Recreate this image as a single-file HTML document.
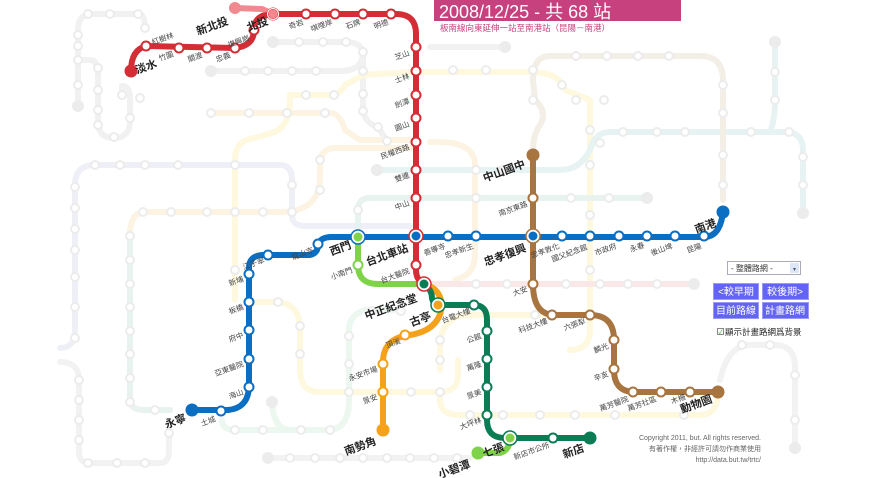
<!DOCTYPE html>
<html><head><meta charset="utf-8"><style>
html,body{margin:0;padding:0;background:#fff;}
svg{display:block;font-family:"Liberation Sans","Noto Sans CJK TC",sans-serif;}
.s{font-size:7.5px;fill:#444;text-anchor:end;}
.b{font-size:11px;font-weight:bold;fill:#222;text-anchor:end;}
.bg{fill:none;stroke-width:6;stroke-linecap:round;stroke-linejoin:round;}
.bc circle{fill:#fff;stroke:#ececec;stroke-width:2;}
.ln{fill:none;stroke-width:6;stroke-linecap:round;stroke-linejoin:round;}
</style></head><body>
<svg width="878" height="478" viewBox="0 0 878 478" xmlns="http://www.w3.org/2000/svg">
<g class="bg">
<path stroke="#f1f1f1" d="M78,106 L78,30 Q78,14 92,14 L138,14 Q145,14 145,28"/>
<path stroke="#f1f1f1" d="M78,60 L90,60 Q98,60 98,75 L98,125 Q100,138 114,138 Q130,138 130,120 L130,98 Q130,86 122,86 L122,95"/>
<path stroke="#f1f1f1" d="M273,42 L346,42 Q360,42 363,52"/>
<path stroke="#f1f1f1" d="M211,71 L340,71 Q363,71 363,52 L363,111 Q366,124 378,127 L387,141"/>
<path stroke="#f1f1f1" d="M430,47 L505,47"/>
<path stroke="#f2f2f2" d="M268,458 L470,458"/>
<path stroke="#f2f2f2" d="M60,362 Q79,362 79,380 L79,452 Q79,463 90,463 L160,463 Q169,463 169,450 L169,433"/>
<path stroke="#f2f2f2" d="M720,380 Q728,345 750,345 L775,345 Q795,345 795,368 L795,448"/>
<path stroke="#efeff7" d="M60,348 Q75,348 75,330 L75,185 Q75,165 95,165 L280,165 Q292,165 292,180 L292,215 Q292,226 305,226 L410,226"/>
<path stroke="#fdf3e3" d="M130,236 Q130,212 145,212 L280,212 Q318,212 320,180 L320,160 Q322,150 333,148 L410,148"/>
<path stroke="#fdf3e3" d="M211,113 L330,113 Q340,113 345,130 L360,140 L410,140"/>
<path stroke="#fdf3e3" d="M430,142 Q475,140 475,165 L475,255 Q475,275 455,280"/>
<path stroke="#fdf8de" d="M235,300 L235,160 Q235,140 255,138 L275,132 Q290,125 290,100 L290,95 L330,95 Q340,95 345,85 L363,75 L410,72 L530,72 Q560,72 565,90 L590,100 L590,330 Q590,350 570,350"/>
<path stroke="#fdf8de" d="M249,302 L275,302 Q300,302 300,330 L300,370 Q300,392 320,392 L440,392 Q458,392 458,375 L458,360"/>
<path stroke="#fdf8de" d="M440,392 L440,400 Q440,415 460,415 L700,415 Q718,415 718,392"/>
<path stroke="#fdf8de" d="M440,370 L440,340 Q445,315 470,315 L560,315"/>
<path stroke="#e7f3f3" d="M377,170 L560,170 Q580,170 590,150 Q595,132 610,132 L785,132 Q803,132 803,150 L803,213"/>
<path stroke="#e7f3f3" d="M770,132 Q775,120 775,100 L775,42"/>
<path stroke="#e8f2ef" d="M358,236 L358,210 Q358,198 370,198 L647,198"/>
<path stroke="#e8f2ef" d="M130,236 L130,400 Q130,410 145,410 L170,410"/>
<path stroke="#fae8e8" d="M430,284 L694,284"/>
<path stroke="#f3eee6" d="M533,150 Q533,135 540,125 Q548,112 535,100 L533,80 Q533,56 550,56 L700,56 Q723,56 723,80 L723,200"/>
<path stroke="#ecf7f0" d="M400,310 L365,310 Q349,315 349,330 L349,400 Q349,428 330,430 L235,430 Q222,430 222,420"/>
<path stroke="#ecf7f0" d="M272,405 Q275,430 290,430"/>
</g>
<g class="bc">
<circle cx="88" cy="14" r="4"/><circle cx="110" cy="14" r="4"/><circle cx="138" cy="14" r="4"/><circle cx="145" cy="28" r="4"/>
<circle cx="78" cy="35" r="4"/><circle cx="78" cy="46" r="4"/><circle cx="78" cy="60" r="4"/><circle cx="78" cy="85" r="4"/>
<circle cx="98" cy="68" r="4"/><circle cx="98" cy="90" r="4"/><circle cx="98" cy="110" r="4"/><circle cx="98" cy="125" r="4"/><circle cx="114" cy="137" r="4"/><circle cx="130" cy="118" r="4"/><circle cx="122" cy="95" r="4"/><circle cx="140" cy="98" r="4"/>
<circle cx="299" cy="42" r="4"/><circle cx="323" cy="42" r="4"/><circle cx="346" cy="42" r="4"/><circle cx="363" cy="52" r="4"/>
<circle cx="245" cy="71" r="4"/><circle cx="268" cy="71" r="4"/><circle cx="292" cy="71" r="4"/><circle cx="316" cy="71" r="4"/><circle cx="363" cy="71" r="4"/><circle cx="363" cy="94" r="4"/><circle cx="363" cy="111" r="4"/><circle cx="378" cy="127" r="4"/><circle cx="387" cy="141" r="4"/>
<circle cx="306" cy="95" r="4"/><circle cx="334" cy="95" r="4"/><circle cx="453" cy="70" r="4"/><circle cx="486" cy="70" r="4"/><circle cx="533" cy="70" r="4"/><circle cx="562" cy="85" r="4"/><circle cx="576" cy="100" r="4"/><circle cx="604" cy="100" r="4"/><circle cx="590" cy="130" r="4"/><circle cx="590" cy="165" r="4"/><circle cx="590" cy="215" r="4"/><circle cx="590" cy="270" r="4"/>
<circle cx="211" cy="113" r="4"/><circle cx="249" cy="113" r="4"/><circle cx="287" cy="113" r="4"/><circle cx="325" cy="113" r="4"/>
<circle cx="95" cy="165" r="4"/><circle cx="120" cy="165" r="4"/><circle cx="145" cy="165" r="4"/><circle cx="178" cy="165" r="4"/><circle cx="235" cy="165" r="4"/><circle cx="292" cy="185" r="4"/>
<circle cx="75" cy="187" r="4"/><circle cx="75" cy="208" r="4"/><circle cx="75" cy="229" r="4"/><circle cx="75" cy="250" r="4"/><circle cx="75" cy="277" r="4"/><circle cx="75" cy="307" r="4"/><circle cx="75" cy="338" r="4"/>
<circle cx="143" cy="212" r="4"/><circle cx="171" cy="212" r="4"/><circle cx="207" cy="212" r="4"/><circle cx="235" cy="212" r="4"/><circle cx="263" cy="212" r="4"/><circle cx="292" cy="212" r="4"/><circle cx="320" cy="190" r="4"/><circle cx="320" cy="160" r="4"/>
<circle cx="130" cy="236" r="4"/><circle cx="130" cy="260" r="4"/><circle cx="130" cy="284" r="4"/><circle cx="130" cy="307" r="4"/><circle cx="130" cy="331" r="4"/><circle cx="130" cy="354" r="4"/><circle cx="130" cy="378" r="4"/><circle cx="130" cy="402" r="4"/><circle cx="155" cy="410" r="4"/>
<circle cx="235" cy="270" r="4"/><circle cx="278" cy="302" r="4"/><circle cx="300" cy="326" r="4"/><circle cx="300" cy="354" r="4"/><circle cx="349" cy="392" r="4"/><circle cx="411" cy="392" r="4"/><circle cx="440" cy="392" r="4"/>
<circle cx="349" cy="336" r="4"/><circle cx="349" cy="364" r="4"/><circle cx="372" cy="311" r="4"/><circle cx="401" cy="311" r="4"/>
<circle cx="235" cy="430" r="4"/><circle cx="263" cy="430" r="4"/><circle cx="301" cy="430" r="4"/><circle cx="330" cy="430" r="4"/>
<circle cx="290" cy="458" r="4"/><circle cx="315" cy="458" r="4"/><circle cx="340" cy="458" r="4"/><circle cx="363" cy="458" r="4"/><circle cx="387" cy="458" r="4"/><circle cx="410" cy="458" r="4"/><circle cx="434" cy="458" r="4"/><circle cx="457" cy="458" r="4"/>
<circle cx="79" cy="380" r="4"/><circle cx="79" cy="400" r="4"/><circle cx="79" cy="420" r="4"/><circle cx="79" cy="440" r="4"/><circle cx="88" cy="463" r="4"/><circle cx="117" cy="463" r="4"/><circle cx="145" cy="463" r="4"/><circle cx="169" cy="433" r="4"/>
<circle cx="440" cy="340" r="4"/><circle cx="440" cy="360" r="4"/><circle cx="535" cy="315" r="4"/><circle cx="470" cy="415" r="4"/><circle cx="503" cy="415" r="4"/><circle cx="540" cy="415" r="4"/><circle cx="575" cy="415" r="4"/><circle cx="615" cy="415" r="4"/><circle cx="684" cy="415" r="4"/>
<circle cx="742" cy="345" r="4"/><circle cx="770" cy="345" r="4"/><circle cx="795" cy="375" r="4"/><circle cx="795" cy="420" r="4"/>
<circle cx="476" cy="170" r="4"/><circle cx="503" cy="170" r="4"/><circle cx="600" cy="143" r="4"/><circle cx="623" cy="132" r="4"/><circle cx="657" cy="132" r="4"/><circle cx="685" cy="132" r="4"/><circle cx="751" cy="132" r="4"/><circle cx="789" cy="132" r="4"/><circle cx="803" cy="157" r="4"/><circle cx="803" cy="185" r="4"/><circle cx="775" cy="72" r="4"/><circle cx="775" cy="100" r="4"/>
<circle cx="476" cy="198" r="4"/><circle cx="571" cy="198" r="4"/><circle cx="609" cy="198" r="4"/><circle cx="358" cy="210" r="4"/>
<circle cx="476" cy="284" r="4"/><circle cx="507" cy="284" r="4"/><circle cx="566" cy="284" r="4"/><circle cx="600" cy="284" r="4"/><circle cx="628" cy="284" r="4"/><circle cx="657" cy="284" r="4"/>
<circle cx="533" cy="100" r="4"/><circle cx="576" cy="56" r="4"/><circle cx="607" cy="56" r="4"/><circle cx="638" cy="56" r="4"/><circle cx="669" cy="56" r="4"/><circle cx="723" cy="85" r="4"/><circle cx="723" cy="113" r="4"/><circle cx="723" cy="155" r="4"/><circle cx="723" cy="185" r="4"/>
</g>
<g fill="#ececec"><circle cx="78" cy="106" r="6"/><circle cx="273" cy="42" r="6"/><circle cx="211" cy="71" r="6"/><circle cx="505" cy="47" r="6"/><circle cx="268" cy="458" r="6"/><circle cx="795" cy="448" r="6"/><circle cx="647" cy="198" r="6"/><circle cx="694" cy="284" r="6"/><circle cx="377" cy="170" r="6"/><circle cx="272" cy="402" r="6"/><circle cx="803" cy="213" r="6"/><circle cx="775" cy="42" r="6"/></g>

<path class="ln" stroke="#f08a90" stroke-width="5" d="M235,8 L262,9 L273,14"/>
<circle cx="235" cy="8" r="6" fill="#f08a90"/>
<path class="ln" stroke="#7ed348" d="M358,237 L358,265 Q358,284 378,284 L424,284"/>
<path class="ln" stroke="#7ed348" d="M478,453 L500,453 Q510,450 510,438"/>
<path class="ln" stroke="#f5a21a" d="M424,284 Q440,288 442,305 Q440,330 410,335 Q383,338 383,362 L383,430"/>
<path class="ln" stroke="#0a7d55" d="M424,284 Q432,290 432,298 Q433,305 440,305 L474,305 Q487,305 487,320 L487,420 Q487,438 505,438 L590,438"/>
<path class="ln" stroke="#a8743f" d="M533,155 L533,284 Q533,315 555,315 L590,315 Q614,315 614,340 L614,370 Q614,392 635,392 L718,392"/>
<path class="ln" stroke="#0a6fc2" d="M192,410 L228,410 Q249,408 249,385 L249,268 Q249,256 262,255 L310,255 Q318,253 318,245 Q320,237 332,237 L704,237 Q720,237 723,212"/>
<path class="ln" stroke="#d42d35" d="M131,71 Q131,50 146,46 L235,48 Q254,46 254,30 Q254,20 262,16 L273,14 L396,14 Q416,14 416,34 L416,270 Q416,280 424,284"/>
<circle cx="131" cy="71" r="6.5" fill="#d42d35"/>
<circle cx="192" cy="410" r="6.5" fill="#0a6fc2"/><circle cx="723" cy="212" r="6.5" fill="#0a6fc2"/>
<circle cx="478" cy="453" r="6.5" fill="#7ed348"/>
<circle cx="383" cy="430" r="6.5" fill="#f5a21a"/>
<circle cx="590" cy="438" r="6.5" fill="#0a7d55"/>
<circle cx="533" cy="155" r="6.5" fill="#a8743f"/><circle cx="718" cy="392" r="6.5" fill="#a8743f"/>
<g fill="#fff" stroke-width="2">
<g stroke="#d42d35"><circle cx="146" cy="46" r="4.5"/><circle cx="179" cy="48" r="4.5"/><circle cx="207" cy="48" r="4.5"/><circle cx="235" cy="48" r="4.5"/><circle cx="254" cy="30" r="4.5"/><circle cx="306" cy="14" r="4.5"/><circle cx="335" cy="14" r="4.5"/><circle cx="363" cy="14" r="4.5"/><circle cx="391" cy="14" r="4.5"/><circle cx="416" cy="47" r="4.5"/><circle cx="416" cy="71" r="4.5"/><circle cx="416" cy="95" r="4.5"/><circle cx="416" cy="118" r="4.5"/><circle cx="416" cy="142" r="4.5"/><circle cx="416" cy="170" r="4.5"/><circle cx="416" cy="198" r="4.5"/><circle cx="416" cy="265" r="4.5"/></g>
<g stroke="#0a6fc2"><circle cx="221" cy="411" r="4.5"/><circle cx="249" cy="387" r="4.5"/><circle cx="249" cy="359" r="4.5"/><circle cx="249" cy="330" r="4.5"/><circle cx="249" cy="302" r="4.5"/><circle cx="249" cy="274" r="4.5"/><circle cx="268" cy="255" r="4.5"/><circle cx="318" cy="244" r="4.5"/><circle cx="448" cy="236" r="4.5"/><circle cx="476" cy="236" r="4.5"/><circle cx="562" cy="236" r="4.5"/><circle cx="590" cy="236" r="4.5"/><circle cx="619" cy="236" r="4.5"/><circle cx="647" cy="236" r="4.5"/><circle cx="675" cy="236" r="4.5"/><circle cx="704" cy="236" r="4.5"/></g>
<g stroke="#7ed348"><circle cx="358" cy="265" r="4.5"/></g>
<g stroke="#0a7d55"><circle cx="474" cy="305" r="4.5"/><circle cx="487" cy="331" r="4.5"/><circle cx="487" cy="359" r="4.5"/><circle cx="487" cy="387" r="4.5"/><circle cx="487" cy="415" r="4.5"/><circle cx="553" cy="438" r="4.5"/></g>
<g stroke="#f5a21a"><circle cx="405" cy="335" r="4.5"/><circle cx="383" cy="364" r="4.5"/><circle cx="383" cy="392" r="4.5"/></g>
<g stroke="#a8743f"><circle cx="533" cy="198" r="4.5"/><circle cx="533" cy="284" r="4.5"/><circle cx="552" cy="315" r="4.5"/><circle cx="590" cy="315" r="4.5"/><circle cx="614" cy="340" r="4.5"/><circle cx="614" cy="369" r="4.5"/><circle cx="633" cy="392" r="4.5"/><circle cx="661" cy="392" r="4.5"/><circle cx="690" cy="392" r="4.5"/></g>
</g>
<circle cx="273" cy="14" r="5.5" fill="#f08a90" stroke="#d42d35" stroke-width="2"/>
<circle cx="273" cy="14" r="5.5" fill="none" stroke="#fff" stroke-width="1"/>
<circle cx="416" cy="236" r="5.5" fill="#0a6fc2" stroke="#fff" stroke-width="2"/><circle cx="416" cy="236" r="7" fill="none" stroke="#d42d35" stroke-width="1.5"/>
<circle cx="358" cy="237" r="5.5" fill="#7ed348" stroke="#fff" stroke-width="2"/><circle cx="358" cy="237" r="7" fill="none" stroke="#0a6fc2" stroke-width="1.5"/>
<circle cx="533" cy="236" r="5.5" fill="#0a6fc2" stroke="#fff" stroke-width="2"/><circle cx="533" cy="236" r="7" fill="none" stroke="#a8743f" stroke-width="1.5"/>
<circle cx="424" cy="284" r="5.5" fill="#0a7d55" stroke="#fff" stroke-width="2"/><circle cx="424" cy="284" r="7" fill="none" stroke="#d42d35" stroke-width="1.5"/>
<circle cx="438" cy="305" r="5.5" fill="#f5a21a" stroke="#fff" stroke-width="2"/><circle cx="438" cy="305" r="7" fill="none" stroke="#0a7d55" stroke-width="1.5"/>
<circle cx="510" cy="438" r="5.5" fill="#7ed348" stroke="#fff" stroke-width="2"/><circle cx="510" cy="438" r="7" fill="none" stroke="#0a7d55" stroke-width="1.5"/>

<g class="s">
<text x="153" y="45" text-anchor="start" transform="rotate(-20 153 45)">紅樹林</text>
<text x="174" y="56" transform="rotate(-20 174 56)">竹圍</text>
<text x="203" y="57" transform="rotate(-20 203 57)">關渡</text>
<text x="231" y="57" transform="rotate(-20 231 57)">忠義</text>
<text x="250" y="40" transform="rotate(-20 250 40)">復興崗</text>
<text x="304" y="24" transform="rotate(-20 304 24)">奇岩</text>
<text x="333" y="24" transform="rotate(-20 333 24)">唭哩岸</text>
<text x="361" y="24" transform="rotate(-20 361 24)">石牌</text>
<text x="389" y="24" transform="rotate(-20 389 24)">明德</text>
<text x="410" y="55" transform="rotate(-20 410 55)">芝山</text>
<text x="410" y="78" transform="rotate(-20 410 78)">士林</text>
<text x="410" y="103" transform="rotate(-20 410 103)">劍潭</text>
<text x="410" y="126" transform="rotate(-20 410 126)">圓山</text>
<text x="410" y="149" transform="rotate(-20 410 149)">民權西路</text>
<text x="410" y="177" transform="rotate(-20 410 177)">雙連</text>
<text x="410" y="205" transform="rotate(-20 410 205)">中山</text>
<text x="410" y="273" transform="rotate(-20 410 273)">台大醫院</text>
<text x="353" y="272" transform="rotate(-20 353 272)">小南門</text>
<text x="216" y="421" transform="rotate(-20 216 421)">土城</text>
<text x="244" y="394" transform="rotate(-20 244 394)">海山</text>
<text x="244" y="366" transform="rotate(-20 244 366)">亞東醫院</text>
<text x="244" y="337" transform="rotate(-20 244 337)">府中</text>
<text x="244" y="309" transform="rotate(-20 244 309)">板橋</text>
<text x="244" y="281" transform="rotate(-20 244 281)">新埔</text>
<text x="265" y="262" transform="rotate(-20 265 262)">江子翠</text>
<text x="314" y="252" transform="rotate(-20 314 252)">龍山寺</text>
<text x="446" y="248" transform="rotate(-20 446 248)">善導寺</text>
<text x="474" y="248" transform="rotate(-20 474 248)">忠孝新生</text>
<text x="560" y="248" transform="rotate(-20 560 248)">忠孝敦化</text>
<text x="588" y="249" transform="rotate(-20 588 249)">國父紀念館</text>
<text x="617" y="248" transform="rotate(-20 617 248)">市政府</text>
<text x="645" y="247" transform="rotate(-20 645 247)">永春</text>
<text x="673" y="248" transform="rotate(-20 673 248)">後山埤</text>
<text x="702" y="248" transform="rotate(-20 702 248)">昆陽</text>
<text x="471" y="313" transform="rotate(-20 471 313)">台電大樓</text>
<text x="482" y="338" transform="rotate(-20 482 338)">公館</text>
<text x="482" y="366" transform="rotate(-20 482 366)">萬隆</text>
<text x="482" y="394" transform="rotate(-20 482 394)">景美</text>
<text x="482" y="422" transform="rotate(-20 482 422)">大坪林</text>
<text x="550" y="447" transform="rotate(-20 550 447)">新店市公所</text>
<text x="401" y="343" transform="rotate(-20 401 343)">頂溪</text>
<text x="378" y="371" transform="rotate(-20 378 371)">永安市場</text>
<text x="378" y="399" transform="rotate(-20 378 399)">景安</text>
<text x="528" y="206" transform="rotate(-20 528 206)">南京東路</text>
<text x="528" y="291" transform="rotate(-20 528 291)">大安</text>
<text x="548" y="323" transform="rotate(-20 548 323)">科技大樓</text>
<text x="586" y="323" transform="rotate(-20 586 323)">六張犁</text>
<text x="609" y="348" transform="rotate(-20 609 348)">麟光</text>
<text x="609" y="376" transform="rotate(-20 609 376)">辛亥</text>
<text x="629" y="401" transform="rotate(-20 629 401)">萬芳醫院</text>
<text x="657" y="401" transform="rotate(-20 657 401)">萬芳社區</text>
<text x="686" y="399" transform="rotate(-20 686 399)">木柵</text>
</g>
<g class="b">
<text x="229" y="24" transform="rotate(-20 229 24)">新北投</text>
<text x="269" y="24" transform="rotate(-20 269 24)">北投</text>
<text x="137" y="74" text-anchor="start" transform="rotate(-20 137 74)">淡水</text>
<text x="352" y="248" transform="rotate(-20 352 248)">西門</text>
<text x="409" y="251" transform="rotate(-20 409 251)">台北車站</text>
<text x="418" y="301" transform="rotate(-20 418 301)">中正紀念堂</text>
<text x="432" y="319" transform="rotate(-20 432 319)">古亭</text>
<text x="527" y="251" transform="rotate(-20 527 251)">忠孝復興</text>
<text x="526" y="167" transform="rotate(-20 526 167)">中山國中</text>
<text x="717" y="226" transform="rotate(-20 717 226)">南港</text>
<text x="187" y="421" transform="rotate(-20 187 421)">永寧</text>
<text x="377" y="444" transform="rotate(-20 377 444)">南勢角</text>
<text x="505" y="450" transform="rotate(-20 505 450)">七張</text>
<text x="471" y="467" transform="rotate(-20 471 467)">小碧潭</text>
<text x="585" y="451" transform="rotate(-20 585 451)">新店</text>
<text x="713" y="402" transform="rotate(-20 713 402)">動物園</text>
</g>

<rect x="434" y="0" width="247" height="21" fill="#c8417f"/>
<text x="439" y="18" font-size="18" fill="#fff">2008/12/25 - 共 68 站</text>
<text x="440" y="31" font-size="8.5" fill="#c8417f">板南線向東延伸一站至南港站（昆陽－南港）</text>

<rect x="727.5" y="261.5" width="73" height="13" fill="#fff" stroke="#aab" />
<text x="731" y="271" font-size="8" fill="#333">- 整體路網 -</text>
<rect x="790" y="263" width="9" height="10" fill="#dde6f5"/>
<text x="794.5" y="271" font-size="6" fill="#557" text-anchor="middle">▾</text>
<g fill="#6464f4" stroke="#9a9af8" stroke-width="1">
<rect x="713.5" y="283.5" width="45" height="16"/><rect x="762.5" y="283.5" width="46" height="16"/>
<rect x="713.5" y="302.5" width="45" height="16"/><rect x="762.5" y="302.5" width="46" height="16"/>
</g>
<g font-size="10" fill="#fff" text-anchor="middle">
<text x="736" y="295">&lt;較早期</text><text x="785" y="295">較後期&gt;</text>
<text x="736" y="314">目前路線</text><text x="785" y="314">計畫路網</text>
</g>
<rect x="717.5" y="328.5" width="6" height="6" fill="#fff" stroke="#888"/>
<text x="718.5" y="334" font-size="6" fill="#2a2">✓</text>
<text x="725" y="335" font-size="8.5" fill="#222">顯示計畫路網爲背景</text>

<g font-size="7" fill="#666" text-anchor="end">
<text x="761" y="440">Copyright 2011, but. All rights reserved.</text>
<text x="761" y="451">有著作權，非經許可請勿作商業使用</text>
<text x="761" y="462">http://data.but.tw/trtc/</text>
</g>
</svg>
</body></html>
